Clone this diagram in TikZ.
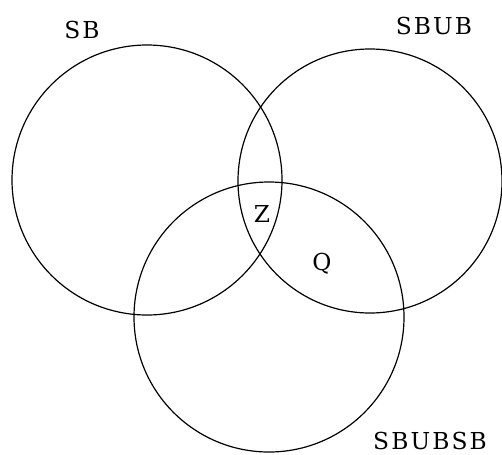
\documentclass[tikz,border=0pt]{standalone}
\usepackage{fontspec}
\newfontfamily\labelfont{DejaVu Serif}[LetterSpace=9]
\usetikzlibrary{positioning}
\tikzset{
  setcircle/.style ={draw,circle,line width=0.9pt,inner sep=0pt},
  setlabel/.style  ={font=\labelfont\fontsize{17.5}{20}\selectfont,inner sep=0pt}
}
\begin{document}
\begin{tikzpicture}[x=0.75pt,y=-0.75pt]
    \useasboundingbox (0,0) rectangle (502,454);
    % the three sets
    \node[setcircle,minimum size=202.5pt] (sb)     at (147,180) {};
    \node[setcircle,minimum size=198pt]   (sbub)   at (370,181) {};
    \node[setcircle,minimum size=202.5pt] (sbubsb) at (269,317) {};
    % labels
    \node[setlabel] (sblab)     at (82,30)   {SB};
    \node[setlabel] (sbublab)   at (434,26)  {SBUB};
    \node[setlabel] (sbubsblab) at (430,441) {SBUBSB};
    \node[setlabel] (zlab)      at (262,214) {Z};
    \node[setlabel] (qlab)      at (322,264) {Q};
\end{tikzpicture}
\end{document}
